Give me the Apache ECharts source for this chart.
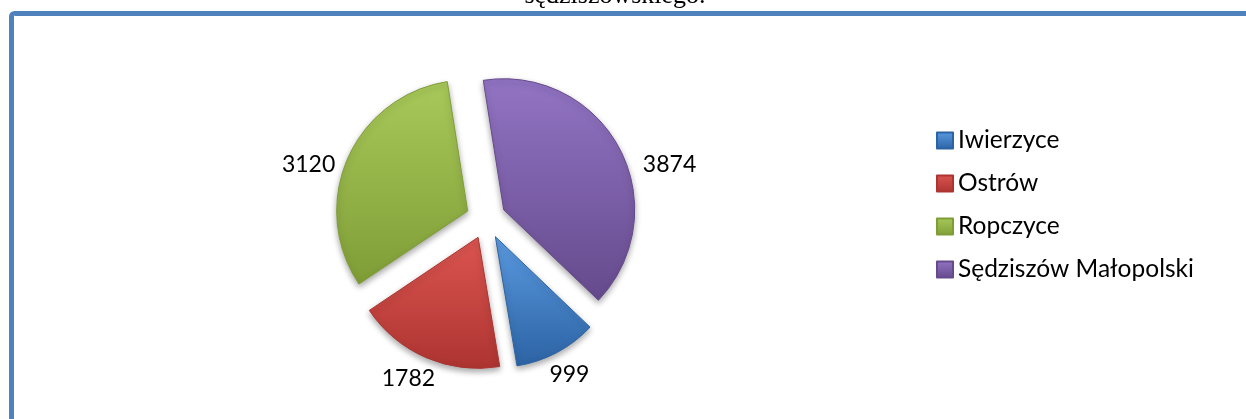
<!DOCTYPE html>
<html>
<head>
<meta charset="utf-8">
<script src="https://cdn.jsdelivr.net/npm/echarts@6/dist/echarts.min.js"></script>
<style>
  html, body { margin: 0; padding: 0; background: #fff; }
  #chart { width: 1246px; height: 419px; }
</style>
</head>
<body>
<div id="chart"></div>
<script>
// dane
const categories = ['Iwierzyce', 'Ostrów', 'Ropczyce', 'Sędziszów Małopolski']
const values = [999, 1782, 3120, 3874]
const titleText = 'sędziszowskiego.'

// kolory (góra / dół gradientu)
const lightColors = ['#5a9ae0', '#dc5550', '#a8c95a', '#9274c4']
const darkColors = ['#2c63a4', '#ad3431', '#7f9d36', '#654a8c']

// przesunięcia etykiet (jak w oryginale)
const labelShift = [[-20, 15], [21, 14], [4, 9], [7, 19]]

const chart = echarts.init(document.getElementById('chart'))

const pieData = values.map((v, i) => ({
    name: categories[i],
    value: v,
    selected: true,
    itemStyle: {
        color: new echarts.graphic.LinearGradient(0, 0, 0, 1, [
            { offset: 0, color: lightColors[i] },
            { offset: 1, color: darkColors[i] }
        ]),
        borderColor: darkColors[i],
        borderWidth: 1
    }
}))

const option = {
    animation: false,
    graphic: [
        {
            // ramka
            type: 'rect',
            shape: { x: 11.5, y: 13.5, width: 1400, height: 600, r: 3 },
            style: { fill: 'none', stroke: '#4f81bd', lineWidth: 5 },
            z: 10
        },
        {
            type: 'text',
            x: 615,
            y: 9,
            style: {
                text: titleText,
                font: '26px "Liberation Serif"',
                fill: '#000',
                align: 'center',
                verticalAlign: 'bottom'
            }
        }
    ],
    legend: {
        orient: 'vertical',
        left: 931,
        top: 122,
        icon: 'rect',
        itemWidth: 16,
        itemHeight: 16,
        itemGap: 16,
        selectedMode: false,
        textStyle: {
            fontFamily: 'Lato',
            fontSize: 24.5,
            color: '#000',
            lineHeight: 27
        },
        data: categories
    },
    series: [
        {
            type: 'pie',
            center: [486, 219],
            radius: 131,
            startAngle: 316.3, // pierwszy wycinek ~134° od góry
            clockwise: true,
            selectedMode: 'multiple',
            selectedOffset: 20,
            avoidLabelOverlap: false,
            label: {
                show: true,
                position: 'outside',
                formatter: '{c}',
                fontFamily: 'Lato',
                fontSize: 23,
                color: '#000'
            },
            labelLine: { show: false, length: 8, length2: 4 },
            labelLayout: function (params) {
                const s = labelShift[params.dataIndex]
                return { dx: s[0], dy: s[1] }
            },
            itemStyle: {
                shadowBlur: 6,
                shadowOffsetY: 3,
                shadowColor: 'rgba(0,0,0,0.35)'
            },
            emphasis: { disabled: true },
            data: pieData
        }
    ]
}

chart.setOption(option)
</script>
</body>
</html>
